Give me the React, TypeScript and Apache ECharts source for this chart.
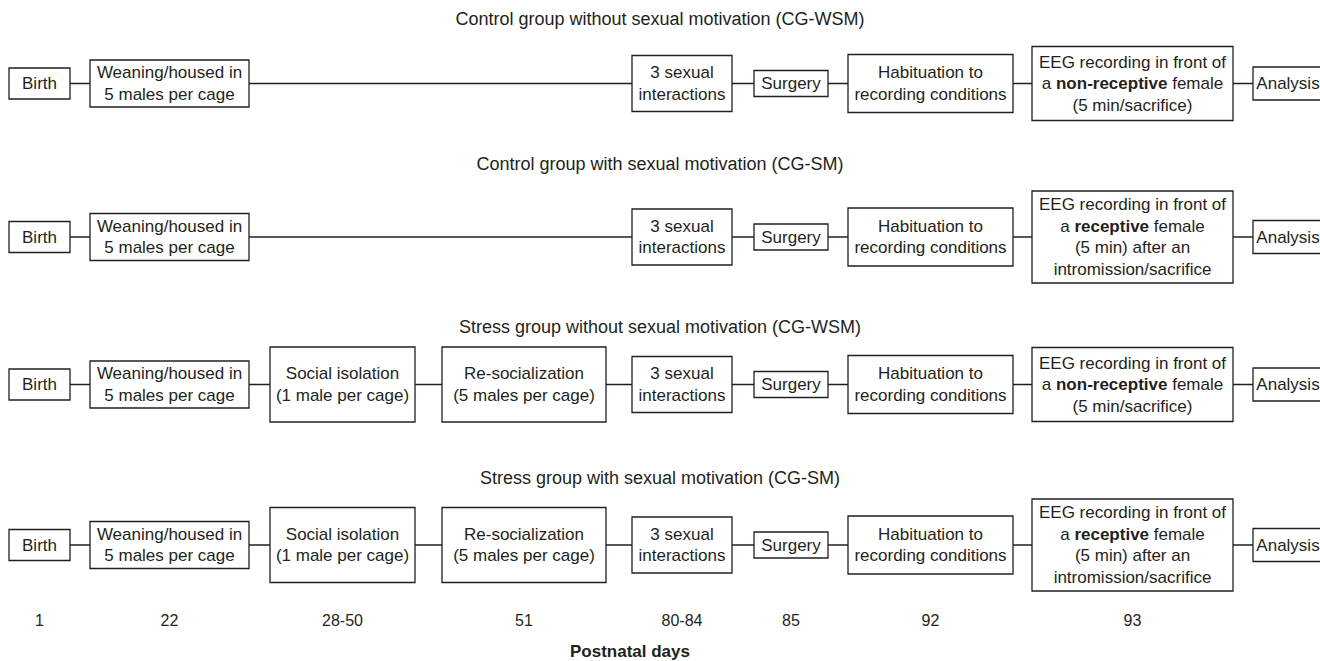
import React, { useEffect, useRef } from 'react';
import * as echarts from 'echarts';

// ---- content (data) ----
const groupTitles = [
  'Control group without sexual motivation (CG-WSM)',
  'Control group with sexual motivation (CG-SM)',
  'Stress group without sexual motivation (CG-WSM)',
  'Stress group with sexual motivation (CG-SM)',
];
const stepLabels = [
  'Birth',
  'Weaning/housed in\n5 males per cage',
  'Social isolation\n(1 male per cage)',
  'Re-socialization\n(5 males per cage)',
  '3 sexual\ninteractions',
  'Surgery',
  'Habituation to\nrecording conditions',
  'EEG',
  'Analysis',
];
const eegNonReceptive = ['EEG recording in front of', ['a ', 'non-receptive', ' female'], '(5 min/sacrifice)'];
const eegReceptive = ['EEG recording in front of', ['a ', 'receptive', ' female'], '(5 min) after an', 'intromission/sacrifice'];
const groupSteps = [
  [0, 1, 4, 5, 6, 7, 8],
  [0, 1, 4, 5, 6, 7, 8],
  [0, 1, 2, 3, 4, 5, 6, 7, 8],
  [0, 1, 2, 3, 4, 5, 6, 7, 8],
];
const groupReceptive = [false, true, false, true];
const postnatalDays = ['1', '22', '28-50', '51', '80-84', '85', '92', '93'];
const axisTitle = 'Postnatal days';

// ---- layout ----
const stepX0 = [9, 90, 270, 442, 632, 754, 848, 1032, 1253];
const stepX1 = [70, 249, 415, 606, 732, 828, 1013, 1233, 1330];
const stepH = [31, 47, 75, 75, 56, 26, 58, 74, 33];
const eegH4 = 92;
const rowY = [83.5, 237, 384.5, 545];
const titleY = [19, 164, 327, 478];
const dayY = 620;
const axisTitleY = 651;

const INK = '#231f20';
const FONT = '"Liberation Sans", Arial, sans-serif';
const FS = 17;
const LH = 21.5;

function richEEG(lines: any[]) {
  return lines
    .map((l) => (Array.isArray(l) ? `{n|${l[0]}}{b|${l[1]}}{n|${l[2]}}` : `{n|${l}}`))
    .join('\n');
}

function buildGraphic() {
  const els: any[] = [];
  groupTitles.forEach((t, r) => {
    els.push({
      type: 'text', x: 660, y: titleY[r], z: 3,
      style: { text: t, fontSize: 18, fontFamily: FONT, fill: INK, align: 'center', verticalAlign: 'middle' },
    });
    const cy = rowY[r];
    els.push({
      type: 'line', z: 1,
      shape: { x1: stepX1[0], y1: cy, x2: stepX0[8], y2: cy },
      style: { stroke: INK, lineWidth: 1.3 },
    });
    groupSteps[r].forEach((s) => {
      let h = stepH[s];
      if (s === 7 && groupReceptive[r]) h = eegH4;
      els.push({
        type: 'rect', z: 2,
        shape: { x: stepX0[s], y: cy - h / 2, width: stepX1[s] - stepX0[s], height: h },
        style: { fill: '#fff', stroke: INK, lineWidth: 1.3 },
      });
      const cx = s === 8 ? stepX0[s] + 35 : (stepX0[s] + stepX1[s]) / 2;
      if (s === 7) {
        const lines = groupReceptive[r] ? eegReceptive : eegNonReceptive;
        els.push({
          type: 'text', x: cx, y: cy, z: 3,
          style: {
            text: richEEG(lines), align: 'center', verticalAlign: 'middle',
            fontSize: FS, fontFamily: FONT, fill: INK, lineHeight: LH,
            rich: {
              n: { fontSize: FS, fontFamily: FONT, fill: INK, lineHeight: LH, fontWeight: 'normal' },
              b: { fontSize: FS, fontFamily: FONT, fill: INK, lineHeight: LH, fontWeight: 'bold' },
            },
          },
        });
      } else {
        els.push({
          type: 'text', x: cx, y: cy, z: 3,
          style: {
            text: stepLabels[s], align: 'center', verticalAlign: 'middle',
            fontSize: FS, fontFamily: FONT, fill: INK, lineHeight: LH,
          },
        });
      }
    });
  });
  const dayStep = [0, 1, 2, 3, 4, 5, 6, 7];
  postnatalDays.forEach((d, i) => {
    const s = dayStep[i];
    els.push({
      type: 'text', x: (stepX0[s] + stepX1[s]) / 2, y: dayY, z: 3,
      style: { text: d, fontSize: 16, fontFamily: FONT, fill: INK, align: 'center', verticalAlign: 'middle' },
    });
  });
  els.push({
    type: 'text', x: 630, y: axisTitleY, z: 3,
    style: { text: axisTitle, fontSize: 17, fontWeight: 'bold', fontFamily: FONT, fill: INK, align: 'center', verticalAlign: 'middle' },
  });
  return els;
}

export default function App() {
  const ref = useRef<HTMLDivElement>(null);
  useEffect(() => {
    document.body.style.margin = '0';
    const chart = echarts.init(ref.current!, null, { renderer: 'svg' });
    chart.setOption({
      animation: false,
      backgroundColor: '#ffffff',
      graphic: { elements: buildGraphic() },
    });
    return () => chart.dispose();
  }, []);
  return <div ref={ref} style={{ position: 'fixed', left: 0, top: 0, width: 1320, height: 661 }} />;
}
